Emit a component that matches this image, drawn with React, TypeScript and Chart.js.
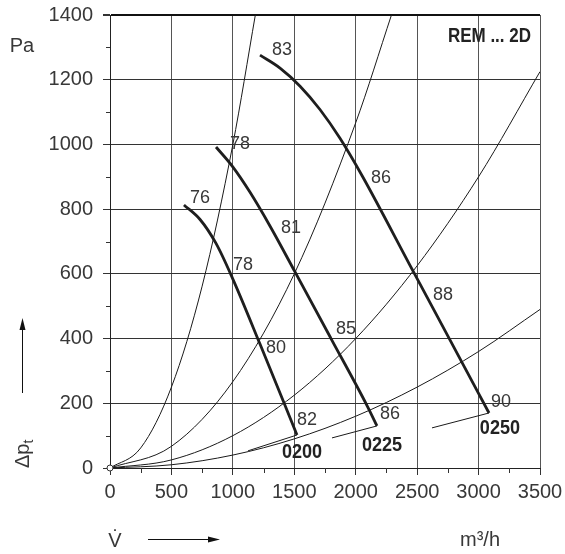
import React, { useEffect, useRef } from 'react';
import { Chart, registerables } from 'chart.js';

Chart.register(...registerables);

// ---- data (V in m³/h, Δpt in Pa) ----
const xTickValues = [0, 500, 1000, 1500, 2000, 2500, 3000, 3500];
const yTickValues = [0, 200, 400, 600, 800, 1000, 1200, 1400];

// fan characteristic curves
const fan0200: [number, number][] = [[602, 813], [733, 768], [863, 694], [993, 590], [1221, 383], [1522, 102]];
const fan0225: [number, number][] = [[863, 992], [1001, 930], [1140, 852], [1302, 748], [1506, 606], [1799, 400], [2092, 193], [2173, 130]];
const fan0250: [number, number][] = [[1221, 1276], [1384, 1236], [1547, 1180], [1709, 1108], [1872, 1019], [2051, 904], [2466, 609], [2767, 396], [3085, 170]];

// system curves (thin parabolas from the origin)
const sysA: [number, number][] = [[0, 0], [250, 62], [500, 250], [750, 562], [1000, 1000], [1183, 1400]];
const sysB: [number, number][] = [[0, 0], [500, 67], [1000, 267], [1500, 600], [2000, 1067], [2291, 1400]];
const sysC: [number, number][] = [[0, 0], [500, 25], [1000, 100], [1500, 225], [2000, 400], [2500, 625], [3000, 900], [3500, 1225]];
const sysD: [number, number][] = [[0, 0], [500, 10], [1000, 40], [1500, 90], [2000, 160], [2500, 250], [3000, 360], [3500, 490]];

// leader lines from size labels to the curve ends
const lead0200: [number, number][] = [[1123, 53], [1522, 102]];
const lead0225: [number, number][] = [[1807, 93], [2173, 130]];
const lead0250: [number, number][] = [[2621, 124], [3085, 170]];

// efficiency labels on curves: [text, V, Δpt]
const effLabels: [string, number, number][] = [
  ['76', 651, 834], ['78', 1001, 627], ['80', 1270, 371], ['82', 1522, 148],
  ['78', 977, 1001], ['81', 1392, 742], ['85', 1840, 430], ['86', 2198, 167],
  ['83', 1319, 1292], ['86', 2124, 896], ['88', 2629, 535], ['90', 3101, 204],
];
// size labels: [text, V, Δpt] (centered)
const sizeLabels: [string, number, number][] = [
  ['0200', 1563, 49], ['0225', 2214, 71], ['0250', 3174, 124],
];
const titleText = 'REM ... 2D';

const toPts = (a: [number, number][]) => a.map(([x, y]) => ({ x, y }));

const LIGHT = '"Liberation Sans", Arial, Helvetica, sans-serif';
const TXT = '#383838';

function condensedText(ctx: CanvasRenderingContext2D, text: string, x: number, y: number, align: 'left' | 'center' | 'right', sx: number) {
  ctx.save();
  ctx.translate(x, y);
  ctx.scale(sx, 1);
  ctx.textAlign = align;
  ctx.fillText(text, 0, 0);
  ctx.restore();
}

const annotPlugin = {
  id: 'annot',
  afterDraw(chart: any) {
    const { ctx, chartArea } = chart;
    const xs = chart.scales.x;
    const ys = chart.scales.y;
    ctx.save();
    // minor ticks
    ctx.strokeStyle = '#333';
    ctx.lineWidth = 1;
    for (let v = 250; v < 3500; v += 500) {
      const px = Math.round(xs.getPixelForValue(v)) + 0.5;
      ctx.beginPath();
      ctx.moveTo(px, chartArea.bottom);
      ctx.lineTo(px, chartArea.bottom + 5);
      ctx.stroke();
    }
    for (let v = 100; v < 1400; v += 200) {
      const py = Math.round(ys.getPixelForValue(v)) + 0.5;
      ctx.beginPath();
      ctx.moveTo(chartArea.left - 4, py);
      ctx.lineTo(chartArea.left, py);
      ctx.stroke();
    }
    // origin circle
    ctx.beginPath();
    ctx.arc(xs.getPixelForValue(0), ys.getPixelForValue(0), 3, 0, Math.PI * 2);
    ctx.fillStyle = '#fff';
    ctx.fill();
    ctx.strokeStyle = '#333';
    ctx.stroke();

    // efficiency labels
    ctx.fillStyle = TXT;
    ctx.font = `18px ${LIGHT}`;
    ctx.textAlign = 'left';
    ctx.textBaseline = 'middle';
    effLabels.forEach(([t, v, p]) => {
      ctx.fillText(t, xs.getPixelForValue(v), ys.getPixelForValue(p));
    });
    // size labels
    ctx.fillStyle = '#222';
    ctx.font = `bold 21px ${LIGHT}`;
    sizeLabels.forEach(([t, v, p]) => {
      condensedText(ctx, t, xs.getPixelForValue(v), ys.getPixelForValue(p), 'center', 0.86);
    });
    // title
    ctx.font = `bold 20px ${LIGHT}`;
    condensedText(ctx, titleText, chartArea.right - 9, chartArea.top + 21, 'right', 0.85);

    // axis unit labels
    ctx.fillStyle = TXT;
    ctx.font = `20px ${LIGHT}`;
    ctx.textAlign = 'center';
    ctx.fillText('Pa', 22, chartArea.top + 31);
    ctx.fillText('m³/h', 480, 540);
    ctx.fillText('V\u0307', 115, 541);

    // Δpt rotated
    ctx.save();
    ctx.translate(29, chartArea.bottom);
    ctx.rotate(-Math.PI / 2);
    ctx.textAlign = 'left';
    ctx.textBaseline = 'alphabetic';
    ctx.font = `20px ${LIGHT}`;
    ctx.fillText('Δp', 0, 0);
    const w = ctx.measureText('Δp').width;
    ctx.font = `14px ${LIGHT}`;
    ctx.fillText('t', w, 4);
    ctx.restore();

    // arrows
    ctx.strokeStyle = '#111';
    ctx.fillStyle = '#111';
    ctx.lineWidth = 1;
    ctx.beginPath();
    ctx.moveTo(22.5, 393);
    ctx.lineTo(22.5, 328);
    ctx.stroke();
    ctx.beginPath();
    ctx.moveTo(22.5, 318);
    ctx.lineTo(19.5, 330);
    ctx.lineTo(25.5, 330);
    ctx.closePath();
    ctx.fill();

    ctx.beginPath();
    ctx.moveTo(148, 539.5);
    ctx.lineTo(210, 539.5);
    ctx.stroke();
    ctx.beginPath();
    ctx.moveTo(220, 539.5);
    ctx.lineTo(208, 536.5);
    ctx.lineTo(208, 542.5);
    ctx.closePath();
    ctx.fill();

    ctx.restore();
  },
};

export default function App() {
  const ref = useRef<HTMLCanvasElement | null>(null);
  useEffect(() => {
    if (!ref.current) return;
    const thick = (d: [number, number][]) => ({
      data: toPts(d), showLine: true, borderColor: '#1e1e1e', borderWidth: 2.8,
      pointRadius: 0, cubicInterpolationMode: 'monotone' as const, fill: false,
    });
    const thin = (d: [number, number][]) => ({
      data: toPts(d), showLine: true, borderColor: '#1a1a1a', borderWidth: 1,
      pointRadius: 0, cubicInterpolationMode: 'monotone' as const, fill: false,
    });
    const straight = (d: [number, number][]) => ({
      data: toPts(d), showLine: true, borderColor: '#1a1a1a', borderWidth: 1,
      pointRadius: 0, tension: 0, fill: false,
    });
    const chart = new Chart(ref.current, {
      type: 'scatter',
      data: {
        datasets: [
          thin(sysA), thin(sysB), thin(sysC), thin(sysD),
          straight(lead0200), straight(lead0225), straight(lead0250),
          thick(fan0200), thick(fan0225), thick(fan0250),
        ] as any,
      },
      plugins: [annotPlugin],
      options: {
        animation: false,
        responsive: false,
        events: [],
        layout: { padding: { top: 15, right: 25, left: 0, bottom: 0 } },
        plugins: { legend: { display: false }, tooltip: { enabled: false } },
        scales: {
          x: {
            type: 'linear',
            min: 0,
            max: 3500,
            afterFit: (s: any) => { s.height = 86; s.paddingLeft = 0; s.paddingRight = 0; },
            afterBuildTicks: (s: any) => { s.ticks = xTickValues.map((value) => ({ value })); },
            ticks: {
              color: TXT, font: { family: LIGHT, size: 20 }, padding: 5, maxRotation: 0, autoSkip: false,
              callback: (v: any) => String(v),
            },
            grid: { color: '#555', lineWidth: 1, tickLength: 7, tickColor: '#333' },
            border: { display: true, color: '#222', width: 1 },
          },
          y: {
            type: 'linear',
            min: 0,
            max: 1400,
            afterFit: (s: any) => { s.width = 110; s.paddingTop = 0; s.paddingBottom = 0; },
            afterBuildTicks: (s: any) => { s.ticks = yTickValues.map((value) => ({ value })); },
            ticks: {
              color: TXT, font: { family: LIGHT, size: 20 }, padding: 10, autoSkip: false,
              callback: (v: any) => String(v),
            },
            grid: {
              color: (c: any) => (c.tick && c.tick.value === 1400 ? '#111' : '#333'),
              lineWidth: (c: any) => (c.tick && c.tick.value === 1400 ? 2 : 1),
              tickLength: 7,
              tickColor: '#333',
            },
            border: { display: true, color: '#222', width: 1 },
          },
        },
      },
    });
    return () => chart.destroy();
  }, []);
  return (
    <div style={{ position: 'absolute', left: 0, top: 0, width: 565, height: 554, background: '#fff' }}>
      <canvas ref={ref} width={565} height={554} style={{ display: 'block' }} />
    </div>
  );
}
